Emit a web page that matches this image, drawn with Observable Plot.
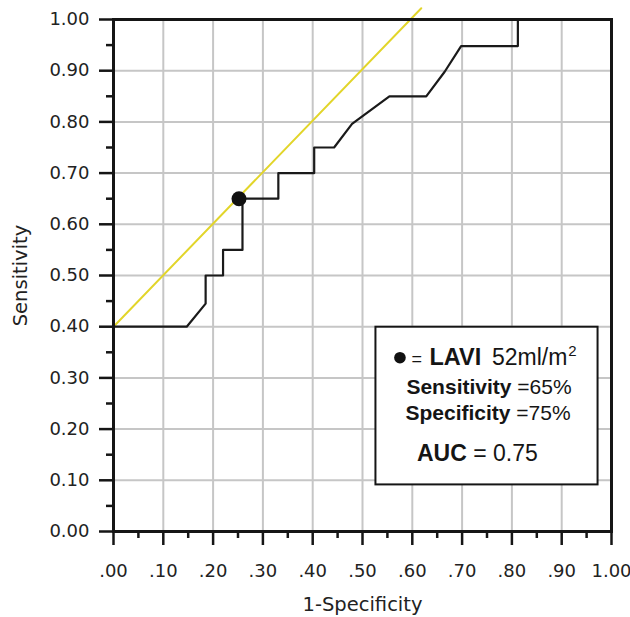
<!DOCTYPE html>
<html>
<head>
<meta charset="utf-8">
<script src="https://cdn.jsdelivr.net/npm/d3@7"></script>
<script src="https://cdn.jsdelivr.net/npm/@observablehq/plot@0.6"></script>
<style>
  html, body { margin: 0; padding: 0; background: #fff; }
  svg { display: block; }
</style>
</head>
<body>
<div id="chart"></div>
<script>
// ROC curve (1-Specificity, Sensitivity)
const rocFpr = [0.000, 0.147, 0.185, 0.185, 0.220, 0.220, 0.259, 0.259, 0.331, 0.331, 0.403, 0.403, 0.443, 0.479, 0.554, 0.628, 0.665, 0.698, 0.812, 0.812];
const rocTpr = [0.400, 0.400, 0.445, 0.500, 0.500, 0.550, 0.550, 0.650, 0.650, 0.700, 0.700, 0.750, 0.750, 0.796, 0.850, 0.850, 0.898, 0.948, 0.948, 1.000];

// Yellow reference line
const refFpr = [0.000, 0.618];
const refTpr = [0.400, 1.022];

// Optimal cut-off point (LAVI 52 ml/m2)
const cutFpr = [0.252];
const cutTpr = [0.650];

// Ticks and labels
const xMajor = [0, 0.1, 0.2, 0.3, 0.4, 0.5, 0.6, 0.7, 0.8, 0.9, 1.0];
const xMinor = [0.05, 0.15, 0.25, 0.35, 0.45, 0.55, 0.65, 0.75, 0.85, 0.95];
const xTickLabels = [".00", ".10", ".20", ".30", ".40", ".50", ".60", ".70", ".80", ".90", "1.00"];
const yMajor = [0, 0.1, 0.2, 0.3, 0.4, 0.5, 0.6, 0.7, 0.8, 0.9, 1.0];
const yMinor = [0.05, 0.15, 0.25, 0.35, 0.45, 0.55, 0.65, 0.75, 0.85, 0.95];
const yTickLabels = ["0.00", "0.10", "0.20", "0.30", "0.40", "0.50", "0.60", "0.70", "0.80", "0.90", "1.00"];

const xTitle = "1-Specificity";
const yTitle = "Sensitivity";

// Legend box extent (data coordinates) and texts
const legendBoxX = [0.527, 0.973];
const legendBoxY = [0.399, 0.091];
const legendMarker = "LAVI";
const legendValue = "52ml/m";
const legendSens = ["Sensitivity", "=65%"];
const legendSpec = ["Specificity", "=75%"];
const legendAuc = ["AUC", "= 0.75"];

const roc = rocFpr.map((x, i) => ({x, y: rocTpr[i]}));
const ref = refFpr.map((x, i) => ({x, y: refTpr[i]}));
const cut = cutFpr.map((x, i) => ({x, y: cutTpr[i]}));

const lab = (arr) => (d) => arr[Math.round(d * 10)];
const axisColor = "#151515";

const plot = Plot.plot({
  width: 630,
  height: 617,
  marginLeft: 113,
  marginRight: 19,
  marginTop: 19,
  marginBottom: 86,
  x: {domain: [0, 1]},
  y: {domain: [0, 1]},
  style: {fontFamily: "'DejaVu Sans', sans-serif", fontSize: "18px", color: "#222", background: "#fff", overflow: "visible"},
  marks: [
    Plot.gridX(xMajor, {stroke: "#c6c6c6", strokeOpacity: 1, strokeWidth: 2}),
    Plot.gridY(yMajor, {stroke: "#c6c6c6", strokeOpacity: 1, strokeWidth: 2}),
    Plot.line(ref, {x: "x", y: "y", stroke: "#e2d52a", strokeWidth: 2}),
    Plot.line(roc, {x: "x", y: "y", stroke: "#1a1a1a", strokeWidth: 2.2}),
    Plot.dot(cut, {x: "x", y: "y", r: 7.5, fill: "#111", stroke: "none"}),
    Plot.axisX(xMinor, {tickSize: 7, strokeWidth: 2.5, stroke: axisColor, tickFormat: () => "", label: null}),
    Plot.axisX(xMajor, {tickSize: 14, strokeWidth: 2.5, stroke: axisColor, tickPadding: 19, tickFormat: lab(xTickLabels),
      label: xTitle, labelAnchor: "center", labelArrow: false, labelOffset: 79}),
    Plot.axisY(yMinor, {tickSize: 7, strokeWidth: 2.5, stroke: axisColor, tickFormat: () => "", label: null}),
    Plot.axisY(yMajor, {tickSize: 14, strokeWidth: 2.5, stroke: axisColor, tickPadding: 10, tickFormat: lab(yTickLabels),
      label: yTitle, labelAnchor: "center", labelArrow: false, labelOffset: 100}),
    Plot.frame({stroke: axisColor, strokeWidth: 3})
  ]
});

document.getElementById("chart").appendChild(plot);

// Axis titles slightly larger than tick labels
d3.select(plot).selectAll("text").filter(function () {
  const t = this.textContent;
  return t === xTitle || t === yTitle;
}).attr("font-size", "19.5px");

// Legend box
const sx = plot.scale("x"), sy = plot.scale("y");
const L = sx.apply(legendBoxX[0]), R = sx.apply(legendBoxX[1]);
const T = sy.apply(legendBoxY[0]), B = sy.apply(legendBoxY[1]);
const svg = d3.select(plot);
const g = svg.append("g")
  .attr("font-family", "'Liberation Sans', Arial, Helvetica, sans-serif")
  .attr("fill", "#151515")
  .style("text-anchor", "start");
g.append("rect").attr("x", L).attr("y", T).attr("width", R - L).attr("height", B - T)
  .attr("fill", "#fff").attr("stroke", "#151515").attr("stroke-width", 2);

const txt = (x, y, size) => g.append("text").attr("x", x).attr("y", y)
  .style("font-size", size + "px").style("text-anchor", "start");

g.append("circle").attr("cx", L + 24.5).attr("cy", T + 31).attr("r", 5.8).attr("fill", "#111");
txt(L + 36, T + 38, 18).text("=");
txt(L + 54, T + 38, 23.5).style("font-weight", "bold").text(legendMarker);
const val = txt(L + 116.5, T + 38, 23).text(legendValue);
const valEnd = L + 116.5 + val.node().getComputedTextLength();
txt(valEnd + 1, T + 29, 15).text("2");

const t2 = txt(L + 31, T + 67.3, 21);
t2.append("tspan").style("font-weight", "bold").text(legendSens[0]);
t2.append("tspan").text(" " + legendSens[1]);

const t3 = txt(L + 30, T + 93.5, 21);
t3.append("tspan").style("font-weight", "bold").text(legendSpec[0]);
t3.append("tspan").text(" " + legendSpec[1]);

const t4 = txt(L + 41.5, T + 134.7, 23);
t4.append("tspan").style("font-weight", "bold").text(legendAuc[0]);
t4.append("tspan").text(" " + legendAuc[1]);
</script>
</body>
</html>
